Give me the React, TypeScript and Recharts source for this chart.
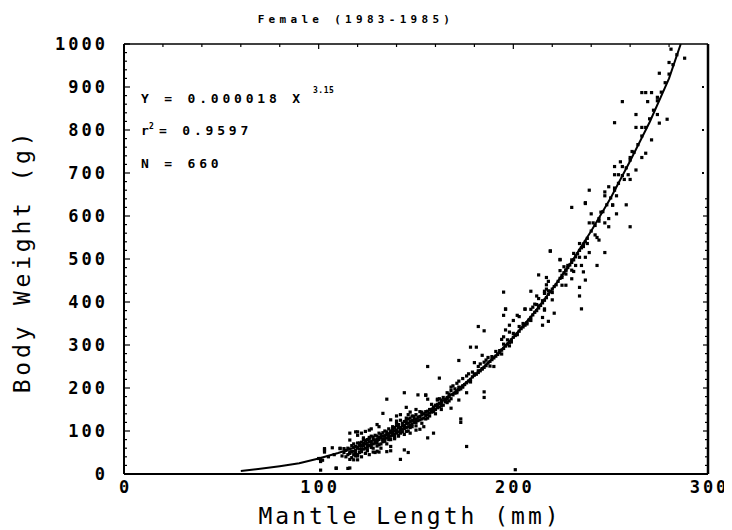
import React from 'react';
import { ScatterChart, Scatter, XAxis, YAxis, Label } from 'recharts';

// Mantle length (mm), body weight (g) pairs
const specimens: [number, number][] = [
  [288, 967], [281, 988], [280, 957], [275, 932], [266, 887], [268, 887], [271, 887], [274, 876], [269, 866], [256, 866],
  [263, 836], [274, 836], [279, 825], [275, 816], [252, 817], [263, 806], [266, 806], [271, 777], [268, 746], [261, 750],
  [266, 736], [260, 736], [255, 726], [256, 715], [252, 715], [263, 707], [252, 696], [254, 696], [259, 696], [257, 685],
  [260, 685], [249, 668], [252, 665], [247, 656], [247, 647], [253, 647], [239, 660], [237, 631], [230, 620], [251, 626],
  [258, 626], [237, 629], [251, 625], [240, 605], [245, 609], [253, 605], [249, 594], [244, 588], [239, 584], [241, 584],
  [247, 584], [249, 575], [260, 575], [242, 556], [243, 550], [244, 544], [234, 536], [238, 536], [236, 529], [219, 518],
  [239, 515], [247, 515], [231, 513], [234, 504], [237, 504], [224, 498], [230, 498], [228, 485], [232, 485], [235, 485],
  [243, 485], [226, 482], [227, 474], [224, 473], [230, 474], [231, 471], [236, 470], [227, 465], [213, 463], [217, 457],
  [225, 457], [230, 454], [237, 451], [218, 448], [217, 440], [227, 439], [225, 439], [234, 434], [217, 430], [216, 425],
  [216, 420], [218, 426], [220, 422], [209, 425], [195, 423], [212, 414], [213, 408], [234, 414], [220, 405], [211, 395],
  [210, 388], [196, 384], [206, 384], [216, 384], [235, 384], [224, 499], [219, 519],
  [215, 403], [212, 394], [213, 391], [196, 383], [206, 383], [209, 383], [216, 381], [221, 374], [195, 369], [202, 369],
  [203, 366], [215, 364], [209, 357], [200, 357], [218, 355], [205, 350], [207, 349], [215, 346], [198, 346], [182, 343],
  [185, 333], [203, 343], [196, 335], [198, 330], [200, 327], [202, 324], [195, 319], [194, 313], [197, 312], [199, 307],
  [195, 302], [196, 298], [198, 298], [178, 295], [181, 295], [193, 287], [191, 285], [194, 279], [184, 276], [189, 273],
  [187, 271], [172, 264], [186, 265], [185, 260], [180, 259], [183, 256], [182, 250], [188, 251], [190, 250], [184, 245],
  [182, 240], [156, 250], [179, 237], [177, 233], [176, 228], [180, 233], [174, 222], [162, 223], [172, 216], [171, 211],
  [178, 214], [169, 205], [168, 202], [170, 198], [168, 194], [172, 202], [174, 202], [185, 191], [166, 189], [167, 186],
  [171, 189], [176, 189], [185, 178], [164, 178], [166, 174], [163, 172], [155, 183], [172, 172], [161, 174], [163, 164],
  [161, 158], [159, 153], [168, 153],
  [144, 189], [151, 184], [155, 184], [156, 174], [135, 174], [145, 155], [147, 144], [146, 138], [142, 138], [140, 135],
  [133, 141], [150, 150], [159, 150], [161, 172], [137, 126], [140, 123], [130, 115], [131, 110], [127, 105], [126, 102],
  [124, 99], [122, 95], [116, 95], [120, 98], [116, 79], [120, 90], [123, 84], [126, 85], [111, 59], [113, 59],
  [103, 59], [103, 51], [116, 50], [118, 53], [119, 42], [120, 45], [120, 33], [118, 33], [116, 34], [122, 52],
  [125, 54], [128, 51], [130, 53], [131, 51], [135, 52], [137, 54], [133, 79], [136, 88], [139, 82], [141, 88],
  [142, 102], [145, 99], [147, 95], [150, 102], [152, 104], [154, 110], [137, 64], [142, 34], [144, 56], [146, 50],
  [101, 9], [109, 14], [116, 14], [156, 84], [159, 95], [156, 130], [159, 145], [176, 64], [173, 128], [173, 120],
  [201, 10], [101, 29], [101, 36], [103, 56], [107, 61], [111, 60], [119, 98], [109, 13], [115, 13],
  [100, 36], [102, 32], [105, 40], [108, 45],
  [118, 45], [119, 55], [120, 60], [121, 50], [122, 65], [123, 58], [124, 70], [125, 62], [126, 75], [127, 68],
  [128, 80], [129, 72], [130, 78], [131, 85], [132, 70], [133, 88], [134, 82], [135, 92], [136, 86], [137, 96],
  [138, 90], [139, 100], [140, 95], [141, 108], [142, 102], [143, 112], [144, 106], [145, 118], [146, 110], [147, 122],
  [148, 116], [149, 128], [150, 120], [151, 132], [152, 126], [153, 138], [154, 130], [155, 145], [156, 138], [157, 150],
  [158, 144], [159, 156], [160, 150], [161, 162], [162, 156], [163, 168], [164, 160], [165, 172], [166, 166], [167, 180],
  [168, 175], [170, 188], [172, 196], [174, 205], [176, 212], [178, 220], [180, 230], [182, 236], [184, 244], [186, 252],
  [188, 262], [190, 270], [192, 278], [194, 288], [196, 298], [198, 306], [200, 318], [202, 326], [204, 338], [206, 346],
  [208, 358], [210, 370], [212, 380], [214, 392], [216, 404], [218, 418], [220, 430], [222, 440], [224, 455], [226, 468],
  [228, 480], [230, 492], [232, 505], [234, 520], [236, 535], [238, 548], [240, 565], [242, 578], [244, 594], [246, 610],
  [248, 626], [250, 642], [252, 660], [254, 676], [256, 694], [258, 712], [260, 730], [262, 748], [264, 766], [266, 786],
  [268, 806], [270, 826], [272, 846], [274, 868], [276, 888], [278, 910], [280, 930], [282, 952], [284, 975],
  [114, 40], [116, 48], [117, 38], [118, 62], [120, 42], [121, 72], [122, 40], [123, 80], [124, 48], [125, 55],
  [126, 45], [127, 88], [128, 60], [129, 50], [130, 65], [131, 95], [132, 60], [133, 75], [134, 100], [135, 70],
  [136, 105], [137, 80], [138, 110], [139, 85], [140, 118], [141, 90], [142, 125], [143, 98], [144, 92], [145, 130],
  [146, 100], [147, 108], [148, 135], [150, 112], [152, 145], [153, 118], [155, 128], [157, 135], [158, 162], [160, 140],
  [162, 175], [163, 150],
  [112, 42], [113, 50], [114, 55], [115, 45], [115, 60], [116, 58], [117, 52], [117, 66], [118, 70], [119, 48],
  [119, 64], [120, 72], [121, 58], [121, 66], [122, 74], [122, 58], [123, 66], [123, 72], [124, 60], [124, 78],
  [125, 68], [125, 80], [126, 66], [126, 82], [127, 74], [127, 62], [128, 70], [128, 86], [129, 78], [129, 90],
  [130, 72], [130, 88], [131, 80], [131, 68], [132, 84], [132, 92], [133, 80], [133, 96], [134, 88], [134, 76],
  [135, 84], [135, 98], [136, 92], [136, 80], [137, 100], [137, 88], [138, 96], [138, 104], [139, 92], [139, 108],
  [140, 100], [140, 112], [141, 98], [141, 115], [142, 108], [142, 95], [143, 104], [143, 118], [144, 112], [144, 122],
  [145, 108], [145, 124], [146, 118], [146, 128], [147, 114], [147, 130], [148, 124], [148, 110], [149, 120], [149, 134],
  [150, 126], [150, 138], [151, 124], [152, 134], [153, 128], [153, 144], [154, 140], [155, 136], [156, 146], [157, 142],
  [158, 150], [159, 146], [160, 160], [161, 154], [162, 164], [163, 158], [165, 168], [166, 178], [167, 170], [169, 184],
  [171, 192], [173, 198], [175, 208], [177, 216], [179, 226], [181, 232], [183, 240], [185, 248], [187, 258], [189, 266],
  [191, 274], [193, 282], [195, 292], [197, 302], [199, 312], [201, 322], [203, 332], [205, 342], [207, 352], [209, 364],
  [211, 376], [213, 386], [215, 398], [217, 410], [219, 424], [221, 436], [223, 448], [225, 462], [227, 474], [229, 486],
  [231, 498], [233, 512], [235, 526], [237, 540],
];

// Fitted curve Y = 0.000018 X^3.15
const fitLength = [60, 70, 80, 90, 100, 110, 120, 130, 140, 150, 160, 170, 180, 190, 200, 210, 220, 230, 240, 250, 260, 270, 280, 286];
const fitWeight = [7, 12, 18, 25, 36, 49, 64, 82, 104, 128, 158, 191, 229, 271, 318, 371, 430, 494, 565, 642, 728, 818, 920, 1000];

const xLabelTicks = [0, 100, 200, 300];
const xTopTicks = [0, 20, 40, 60, 80, 100, 120, 140, 160, 180, 200, 220, 240, 260, 280, 300];
const yTicks = [
  0, 20, 40, 60, 80, 100, 120, 140, 160, 180, 200, 220, 240, 260, 280, 300, 320, 340, 360, 380, 400,
  420, 440, 460, 480, 500, 520, 540, 560, 580, 600, 620, 640, 660, 680, 700, 720, 740, 760, 780, 800,
  820, 840, 860, 880, 900, 920, 940, 960, 980, 1000,
];
const rightDotTicks = [700, 800, 900];

const titleText = 'Female (1983-1985)';
const xTitle = 'Mantle Length (mm)';
const yTitle = 'Body Weight (g)';
const eqText = 'Y = 0.000018 X';
const eqExp = '3.15';
const r2Text = '= 0.9597';
const nText = 'N = 660';

const FONT = '"DejaVu Sans Mono", "Liberation Mono", monospace';

const points = specimens.map(([l, w]) => ({ l, w }));
const curve = fitLength.map((l, i) => ({ l, w: fitWeight[i] }));

const Dot = (props: any) => {
  const { cx, cy } = props;
  if (cx == null || cy == null) return <g />;
  return <rect x={cx - 1.6} y={cy - 1.6} width={3.2} height={3.2} fill="#000" />;
};

const NoDot = () => <g />;

const LeftTick = (props: any) => {
  const { x, y, payload } = props;
  const v = payload.value;
  const major = v % 100 === 0;
  return (
    <g>
      <line x1={x} x2={x + (major ? 6 : 3)} y1={y} y2={y} stroke="#000" strokeWidth={1.2} />
      {major && (
        <text x={x - 16} y={y} dy={6} textAnchor="end" fontFamily={FONT} fontWeight="bold" fontSize={17} letterSpacing={3} fill="#000">
          {v}
        </text>
      )}
    </g>
  );
};

const RightTick = (props: any) => {
  const { x, y, payload } = props;
  const v = payload.value;
  if (v <= 640) {
    return <line x1={x} x2={x - (v % 100 === 0 ? 5 : 3)} y1={y} y2={y} stroke="#000" strokeWidth={1.2} />;
  }
  if (rightDotTicks.includes(v)) {
    return <rect x={x - 6} y={y - 1} width={2} height={2} fill="#000" />;
  }
  return <g />;
};

const TopTick = (props: any) => {
  const { x, y, payload } = props;
  const v = payload.value;
  return <line x1={x} x2={x} y1={y} y2={y + (v % 100 === 0 ? 5 : 3)} stroke="#000" strokeWidth={1.2} />;
};

const BottomTick = (props: any) => {
  const { x, y, payload } = props;
  return (
    <text x={x + 1.5} y={y + 19} textAnchor="middle" fontFamily={FONT} fontWeight="bold" fontSize={17} letterSpacing={3} fill="#000">
      {payload.value}
    </text>
  );
};

export default function App() {
  return (
    <div style={{ width: 724, height: 522, background: '#fff' }}>
      <ScatterChart width={724} height={522} margin={{ top: 16, right: 0, bottom: 0, left: 0 }}>
        <XAxis
          xAxisId="bottom"
          dataKey="l"
          type="number"
          domain={[0, 300]}
          allowDataOverflow
          ticks={xLabelTicks}
          interval={0}
          height={56}
          tickLine={false}
          tickSize={0}
          tickMargin={0}
          tick={<BottomTick />}
          axisLine={{ stroke: '#000', strokeWidth: 2 }}
        >
          <Label
            content={() => (
              <text x={402} y={516} textAnchor="middle" fontFamily={FONT} fontSize={23} letterSpacing={3} fill="#000">
                {xTitle}
              </text>
            )}
          />
        </XAxis>
        <XAxis
          xAxisId="top"
          orientation="top"
          dataKey="l"
          type="number"
          domain={[0, 300]}
          allowDataOverflow
          ticks={xTopTicks}
          interval={0}
          height={20}
          tickLine={false}
          tickSize={0}
          tickMargin={0}
          tick={<TopTick />}
          axisLine={{ stroke: '#000', strokeWidth: 1.5 }}
        >
          <Label
            content={() => (
              <text x={348} y={15} textAnchor="middle" fontFamily={FONT} fontWeight="bold" fontSize={11} letterSpacing={4.3} fill="#000">
                {titleText}
              </text>
            )}
          />
        </XAxis>
        <YAxis
          yAxisId="left"
          dataKey="w"
          type="number"
          domain={[0, 1000]}
          allowDataOverflow
          ticks={yTicks}
          interval={0}
          width={116}
          tickLine={false}
          tickSize={0}
          tickMargin={0}
          tick={<LeftTick />}
          axisLine={{ stroke: '#000', strokeWidth: 2 }}
        >
          <Label
            content={() => (
              <g>
                <text
                  x={22}
                  y={253}
                  transform="rotate(-90, 22, 253)"
                  textAnchor="middle"
                  fontFamily={FONT}
                  fontSize={23}
                  letterSpacing={3.8}
                  fill="#000"
                >
                  {yTitle}
                </text>
                <text x={133} y={95} fontFamily={FONT} fontWeight="bold" fontSize={13} letterSpacing={3.8} fill="#000">
                  {eqText}
                </text>
                <text x={305} y={85} fontFamily={FONT} fontWeight="bold" fontSize={8} letterSpacing={0.5} fill="#000">
                  {eqExp}
                </text>
                <text x={133} y={127} fontFamily={FONT} fontWeight="bold" fontSize={13} fill="#000">
                  r
                </text>
                <text x={141} y={121} fontFamily={FONT} fontWeight="bold" fontSize={8} fill="#000">
                  2
                </text>
                <text x={151} y={127} fontFamily={FONT} fontWeight="bold" fontSize={13} letterSpacing={3.8} fill="#000">
                  {r2Text}
                </text>
                <text x={133} y={160} fontFamily={FONT} fontWeight="bold" fontSize={13} letterSpacing={3.8} fill="#000">
                  {nText}
                </text>
              </g>
            )}
          />
        </YAxis>
        <YAxis
          yAxisId="right"
          orientation="right"
          dataKey="w"
          type="number"
          domain={[0, 1000]}
          allowDataOverflow
          ticks={yTicks}
          interval={0}
          width={24}
          tickLine={false}
          tickSize={0}
          tickMargin={0}
          tick={<RightTick />}
          axisLine={{ stroke: '#000', strokeWidth: 2.5 }}
        />
        <Scatter
          data={points}
          xAxisId="bottom"
          yAxisId="left"
          shape={<Dot />}
          isAnimationActive={false}
        />
        <Scatter
          data={curve}
          xAxisId="bottom"
          yAxisId="left"
          shape={<NoDot />}
          line={{ stroke: '#000', strokeWidth: 2 }}
          lineType="joint"
          isAnimationActive={false}
        />
      </ScatterChart>
    </div>
  );
}
